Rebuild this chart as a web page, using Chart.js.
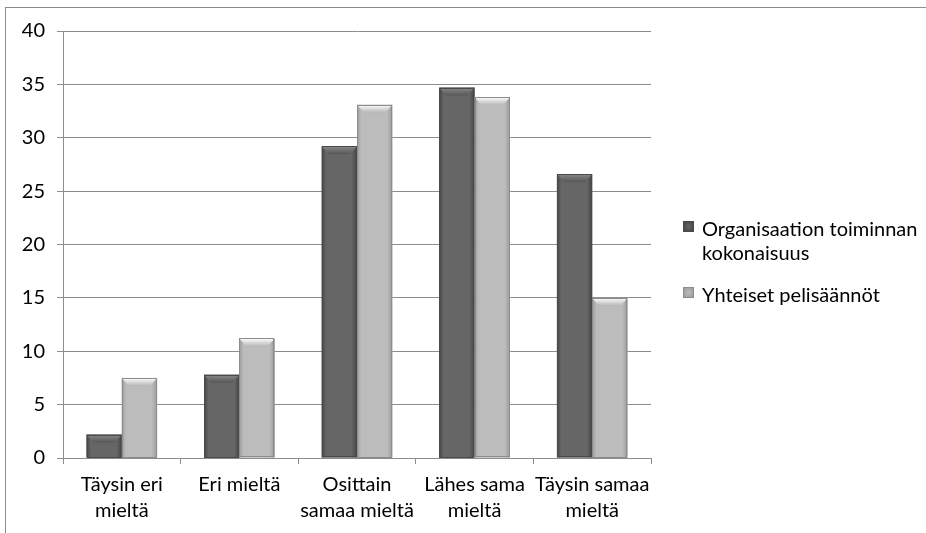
<!DOCTYPE html>
<html>
<head>
<meta charset="utf-8">
<script src="https://cdn.jsdelivr.net/npm/chart.js@4/dist/chart.umd.min.js"></script>
<style>
  html, body { margin: 0; padding: 0; background: #fff; }
  #wrap { position: relative; width: 926px; height: 533px; overflow: hidden; }
  #frame { position: absolute; left: 5px; top: 7px; width: 1000px; height: 1000px; border: 1px solid #8c8c8c; }
  canvas { position: absolute; left: 0; top: 0; }
  #legend { position: absolute; left: 683px; top: 216px; font-family: Lato, "Open Sans", sans-serif; font-size: 20px; color: #000; line-height: 24px; }
  #legend .item { display: flex; align-items: flex-start; margin-bottom: 18px; }
  #legend .sw { width: 11px; height: 11px; margin: 5px 8px 0 0; flex: none; box-sizing: border-box; }
</style>
</head>
<body>
<div id="wrap">
  <div id="frame"></div>
  <canvas id="c" width="926" height="533"></canvas>
  <div id="legend"></div>
</div>
<script>
// Response categories (multi-line axis labels)
const categories = [
  ['Täysin eri', 'mieltä'],
  ['Eri mieltä'],
  ['Osittain', 'samaa mieltä'],
  ['Lähes sama', 'mieltä'],
  ['Täysin samaa', 'mieltä']
];
const seriesNames = [['Organisaation toiminnan', 'kokonaisuus'], ['Yhteiset pelisäännöt']];
const organisaatio = [2.2, 7.8, 29.2, 34.7, 26.6];
const pelisaannot = [7.5, 11.2, 33.1, 33.8, 15.0];
const yTicks = [0, 5, 10, 15, 20, 25, 30, 35, 40];

const FONT = 'Lato, "Open Sans", sans-serif';
const palette = [
  { edge: '#444444', mid: '#666666', border: '#4a4a4a', capTop: '#8a8a8a', capBot: '#565656' },
  { edge: '#9c9c9c', mid: '#bcbcbc', border: '#8c8c8c', capTop: '#ffffff', capBot: '#b6b6b6' }
];

// Shaded, bevelled bar faces drawn over the library's bar elements
const bevelPlugin = {
  id: 'bevel',
  afterDatasetsDraw(chart) {
    const ctx = chart.ctx;
    chart.data.datasets.forEach((ds, di) => {
      const meta = chart.getDatasetMeta(di);
      const pal = palette[di];
      meta.data.forEach(bar => {
        const { x, y, base, width } = bar.getProps(['x', 'y', 'base', 'width'], true);
        const l = x - width / 2, r = x + width / 2;
        const h = base - y;
        ctx.save();
        const g = ctx.createLinearGradient(l, 0, r, 0);
        g.addColorStop(0, pal.edge);
        g.addColorStop(0.12, pal.mid);
        g.addColorStop(0.85, pal.mid);
        g.addColorStop(1, pal.edge);
        ctx.fillStyle = g;
        ctx.fillRect(l, y, width, h);
        // top bevel
        const cap = Math.min(8, h);
        const inset = Math.min(7, width / 4);
        const cg = ctx.createLinearGradient(0, y, 0, y + cap);
        cg.addColorStop(0, pal.capTop);
        cg.addColorStop(1, pal.capBot);
        ctx.fillStyle = cg;
        ctx.beginPath();
        ctx.moveTo(l, y);
        ctx.lineTo(r, y);
        ctx.lineTo(r - inset, y + cap);
        ctx.lineTo(l + inset, y + cap);
        ctx.closePath();
        ctx.fill();
        ctx.strokeStyle = pal.border;
        ctx.lineWidth = 1;
        ctx.strokeRect(Math.round(l) + 0.5, Math.round(y) + 0.5, Math.round(width) - 1, Math.round(h) - 1);
        ctx.restore();
      });
    });
  }
};

const chart = new Chart(document.getElementById('c'), {
  type: 'bar',
  data: {
    labels: categories,
    datasets: [
      { label: seriesNames[0].join(' '), data: organisaatio, backgroundColor: '#606060' },
      { label: seriesNames[1].join(' '), data: pelisaannot, backgroundColor: '#b4b4b4' }
    ]
  },
  options: {
    responsive: false,
    animation: false,
    devicePixelRatio: 1,
    layout: { padding: { left: 0, top: 31, right: 275, bottom: 0 } },
    datasets: { bar: { categoryPercentage: 0.6, barPercentage: 1.0 } },
    plugins: { legend: { display: false }, tooltip: { enabled: false } },
    scales: {
      x: {
        grid: { display: true, drawOnChartArea: false, offset: true, tickLength: 6, color: '#8c8c8c' },
        border: { color: '#8c8c8c' },
        ticks: { color: '#000', font: { family: FONT, size: 20, lineHeight: 1.3 }, padding: 8, maxRotation: 0, autoSkip: false },
        afterFit(s) { s.height = 75; }
      },
      y: {
        min: 0, max: 40,
        afterBuildTicks(s) { s.ticks = yTicks.map(v => ({ value: v })); },
        grid: { color: '#8c8c8c', tickLength: 6 },
        border: { color: '#8c8c8c' },
        ticks: { color: '#000', font: { family: FONT, size: 20 }, padding: 12 },
        afterFit(s) { s.width = 63; }
      }
    }
  },
  plugins: [bevelPlugin]
});

// Legend beside the plot
const legend = document.getElementById('legend');
chart.data.datasets.forEach((ds, i) => {
  const item = document.createElement('div');
  item.className = 'item';
  const sw = document.createElement('div');
  sw.className = 'sw';
  sw.style.background = `radial-gradient(circle, ${palette[i].mid}, ${palette[i].edge})`;
  sw.style.border = `1px solid ${palette[i].border}`;
  const txt = document.createElement('div');
  txt.innerHTML = seriesNames[i].join('<br>');
  item.appendChild(sw);
  item.appendChild(txt);
  legend.appendChild(item);
});
</script>
</body>
</html>
